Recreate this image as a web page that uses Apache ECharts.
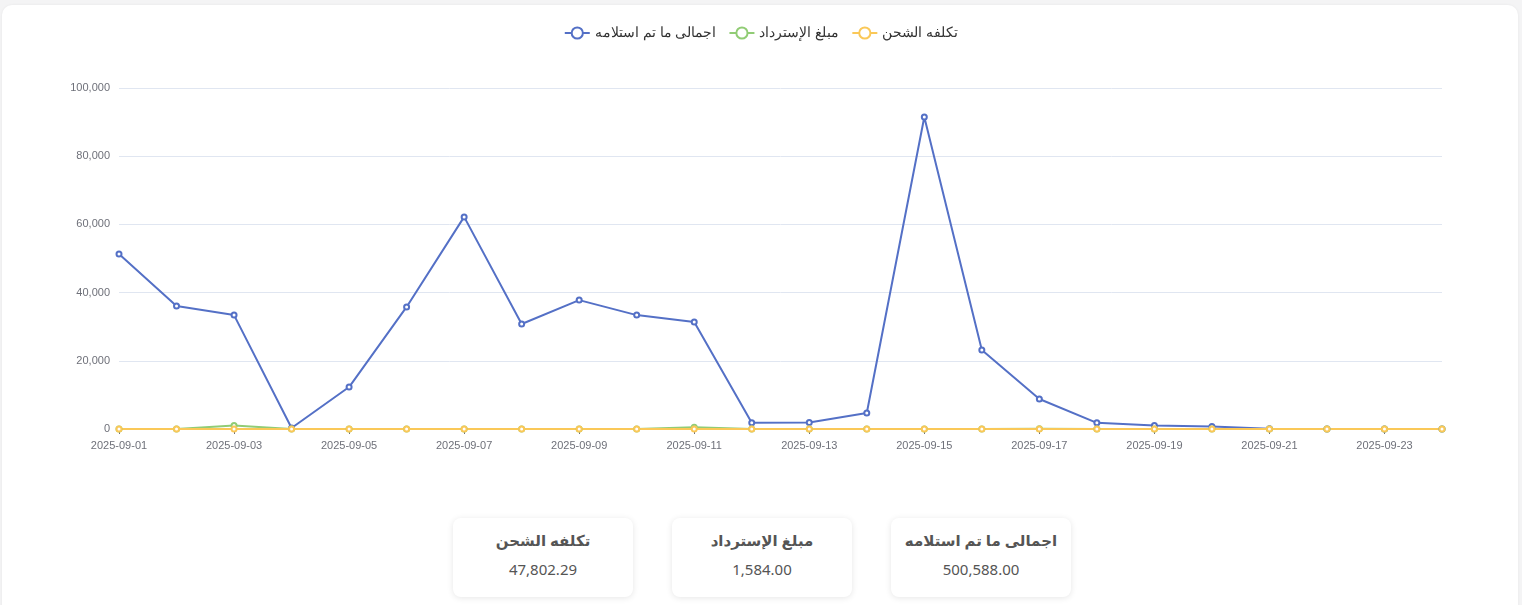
<!DOCTYPE html>
<html><head><meta charset="utf-8">
<script src="https://cdn.jsdelivr.net/npm/echarts@6/dist/echarts.min.js"></script>
<style>
html,body{margin:0;padding:0;background:#f4f4f5;width:1522px;height:605px;overflow:hidden;font-family:"Noto Sans","DejaVu Sans",sans-serif;}
#panel{position:absolute;left:2px;top:5px;width:1516px;height:620px;background:#fff;border-radius:10px;box-shadow:0 0 3px rgba(0,0,0,0.06);}
#chart{position:absolute;left:0;top:0;width:1522px;height:500px;}
.cards{position:absolute;top:518px;left:453px;display:flex;direction:rtl;gap:39px;width:618px;}
.card{width:180px;height:79px;background:#fff;border-radius:8px;box-shadow:0 1px 6px rgba(0,0,0,0.10);text-align:center;color:#555;}
.card .t{margin-top:11px;font-size:15px;font-weight:600;height:22px;line-height:22px;}
.card .v{margin-top:8px;font-size:15px;line-height:20px;direction:ltr;}
</style></head>
<body>
<div id="panel"></div>
<div id="chart"></div>
<div class="cards" id="cards"></div>
<script>
const categories = ["2025-09-01","2025-09-02","2025-09-03","2025-09-04","2025-09-05","2025-09-06","2025-09-07","2025-09-08","2025-09-09","2025-09-10","2025-09-11","2025-09-12","2025-09-13","2025-09-14","2025-09-15","2025-09-16","2025-09-17","2025-09-18","2025-09-19","2025-09-20","2025-09-21","2025-09-22","2025-09-23","2025-09-24"];
const seriesNames = ["اجمالى ما تم استلامه","مبلغ الإسترداد","تكلفه الشحن"];
const received = [51300,36100,33400,300,12300,35800,62200,30800,37800,33400,31400,1800,1900,4700,91500,23200,8800,1800,1000,700,100,0,0,0];
const refunds = [0,0,1000,0,0,0,0,0,0,0,484,0,0,0,0,0,100,0,0,0,0,0,0,0];
const shipping = [0,0,0,0,0,0,0,0,0,0,0,0,0,0,0,0,0,0,0,0,0,0,0,0];
const cardTitles = ["اجمالى ما تم استلامه","مبلغ الإسترداد","تكلفه الشحن"];
const cardValues = ["500,588.00","1,584.00","47,802.29"];

const cardsEl = document.getElementById('cards');
cardTitles.forEach((t,i)=>{
  const d=document.createElement('div');d.className='card';
  d.innerHTML='<div class="t">'+t+'</div><div class="v">'+cardValues[i]+'</div>';
  cardsEl.appendChild(d);
});

const chart = echarts.init(document.getElementById('chart'), null, {renderer:'canvas'});
const colors = ['#5470c6','#91cc75','#fac858'];
const dataArr = [received, refunds, shipping];
chart.setOption({
  animation:false,
  color: colors,
  legend:{top:21,left:'center',itemGap:12,textStyle:{fontSize:14,color:'#333'},data:seriesNames},
  grid:{left:119,right:80,top:88,bottom:71,containLabel:false},
  xAxis:{type:'category',boundaryGap:false,data:categories,
    axisLabel:{color:'#6e7079',fontSize:11,interval:1,margin:11},
    axisTick:{show:true,interval:1,lineStyle:{color:'#6e7079'}},
    axisLine:{lineStyle:{color:'#6e7079'}}},
  yAxis:{type:'value',min:0,max:100000,interval:20000,
    axisLabel:{color:'#6e7079',fontSize:11,margin:9,formatter:v=>v.toLocaleString('en-US')},
    splitLine:{lineStyle:{color:'#E0E6F1'}}},
  series: seriesNames.map((n,i)=>({name:n,type:'line',data:dataArr[i],symbol:'emptyCircle',symbolSize:5,lineStyle:{width:2}}))
});
</script>
</body></html>
